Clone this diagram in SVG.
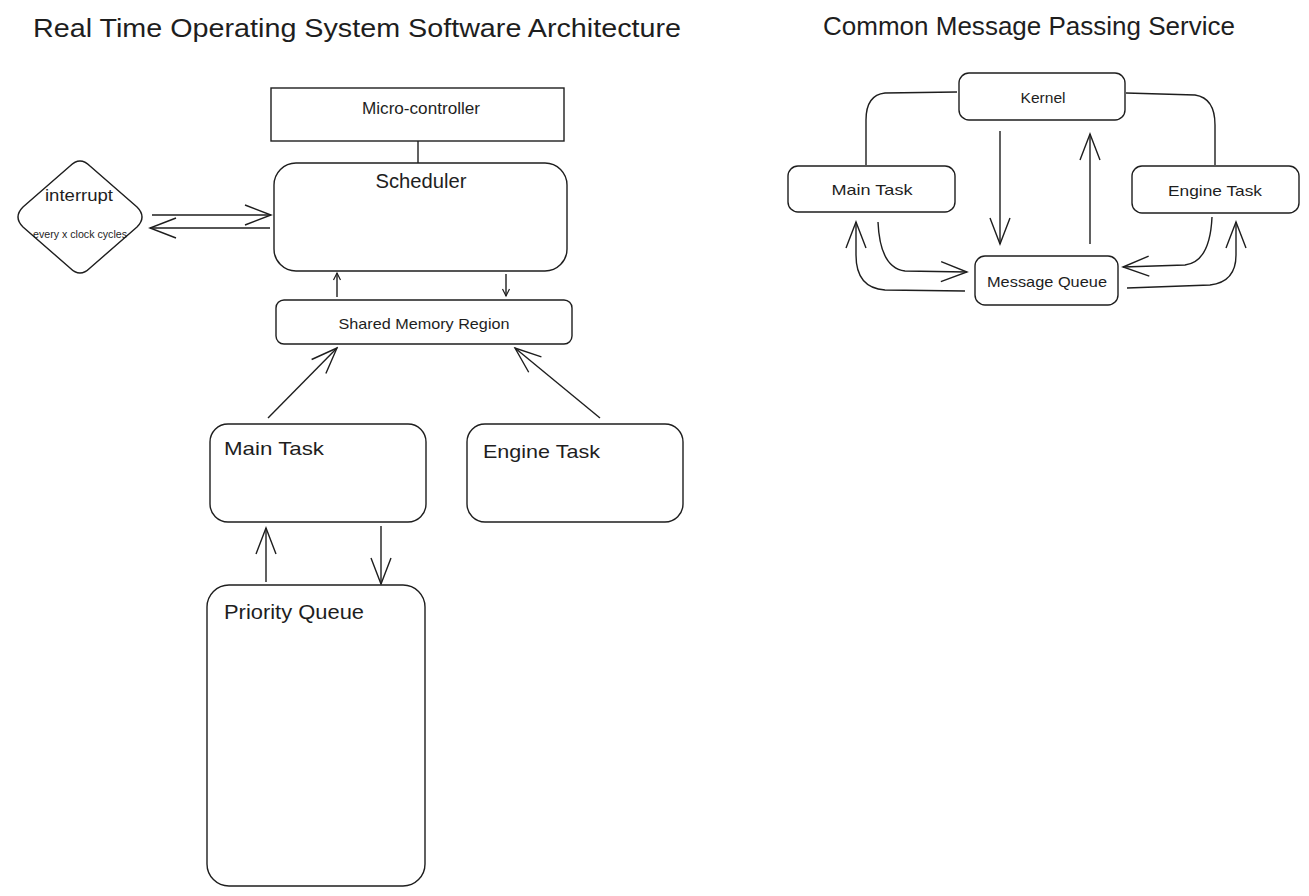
<svg xmlns="http://www.w3.org/2000/svg" width="1309" height="896" viewBox="0 0 1309 896">
<style>
.box{fill:#fff;stroke:#1e1e1e;stroke-width:1.4}
.ln{fill:none;stroke:#1e1e1e;stroke-width:1.4}
text{font-family:"Liberation Sans","Noto Sans",sans-serif;fill:#1e1e1e}
.c{text-anchor:middle;dominant-baseline:central}
.l{dominant-baseline:central}
</style>
<defs>
<marker id="ah" viewBox="-30 -12 32 24" refX="0" refY="0" markerWidth="32" markerHeight="24" markerUnits="userSpaceOnUse" orient="auto">
<path d="M-26,-10 L0,0 L-26,10" fill="none" stroke="#1e1e1e" stroke-width="1.4"/>
</marker>
<marker id="as" viewBox="-10 -5 12 10" refX="0" refY="0" markerWidth="12" markerHeight="10" markerUnits="userSpaceOnUse" orient="auto">
<path d="M-7,-3.5 L0,0 L-7,3.5" fill="none" stroke="#1e1e1e" stroke-width="1.2"/>
</marker>
</defs>
<rect width="1309" height="896" fill="#fff"/>

<text x="357" y="28" class="c" font-size="26" textLength="648" lengthAdjust="spacingAndGlyphs">Real Time Operating System Software Architecture</text>
<text x="1029" y="26" class="c" font-size="26" textLength="412" lengthAdjust="spacingAndGlyphs">Common Message Passing Service</text>

<g id="connectors">
<line class="ln" x1="418" y1="141" x2="418" y2="163"/>
<line class="ln" x1="152" y1="215" x2="271" y2="215" marker-end="url(#ah)"/>
<line class="ln" x1="270" y1="228" x2="150" y2="228" marker-end="url(#ah)"/>
<line class="ln" x1="337" y1="297" x2="337" y2="273" marker-end="url(#as)"/>
<line class="ln" x1="506" y1="274" x2="506" y2="296" marker-end="url(#as)"/>
<line class="ln" x1="268" y1="418" x2="337" y2="348" marker-end="url(#ah)"/>
<line class="ln" x1="600" y1="418" x2="515" y2="348" marker-end="url(#ah)"/>
<line class="ln" x1="266" y1="582" x2="266" y2="528" marker-end="url(#ah)"/>
<line class="ln" x1="381" y1="526" x2="381" y2="584" marker-end="url(#ah)"/>

<path class="ln" d="M957,92 L885,93 Q866,95 866,120 L866,165"/>
<path class="ln" d="M1126,93 L1195,95 Q1215,98 1215,125 L1215,165"/>
<line class="ln" x1="1000" y1="131" x2="1000" y2="244" marker-end="url(#ah)"/>
<line class="ln" x1="1090" y1="244" x2="1090" y2="134" marker-end="url(#ah)"/>
<path class="ln" d="M878,222 Q880,268 905,271 L967,272" marker-end="url(#ah)"/>
<path class="ln" d="M965,291 L885,290 Q856,288 856,255 L856,222" marker-end="url(#ah)"/>
<path class="ln" d="M1212,217 Q1210,262 1185,265 L1123,267" marker-end="url(#ah)"/>
<path class="ln" d="M1127,288 L1210,285 Q1236,282 1236,255 L1236,222" marker-end="url(#ah)"/>
</g>

<g id="microcontroller">
<rect class="box" x="271" y="88" width="293" height="53"/>
<text x="421" y="108" class="c" font-size="16" textLength="118" lengthAdjust="spacingAndGlyphs">Micro-controller</text>
</g>
<g id="scheduler">
<rect class="box" x="274" y="163" width="293" height="108" rx="22"/>
<text x="421" y="181" class="c" font-size="20" textLength="91" lengthAdjust="spacingAndGlyphs">Scheduler</text>
</g>
<g id="interrupt">
<path class="box" d="M70,166 Q80,156 90,166 L137,207 Q147,217 137,227 L90,268 Q80,278 70,268 L23,227 Q13,217 23,207 Z"/>
<text x="79" y="195" class="c" font-size="16" textLength="68" lengthAdjust="spacingAndGlyphs">interrupt</text>
<text x="80" y="234" class="c" font-size="10" textLength="94" lengthAdjust="spacingAndGlyphs">every x clock cycles</text>
</g>
<g id="shared-memory">
<rect class="box" x="276" y="300" width="296" height="44" rx="8"/>
<text x="424" y="323" class="c" font-size="15" textLength="171" lengthAdjust="spacingAndGlyphs">Shared Memory Region</text>
</g>
<g id="main-task">
<rect class="box" x="210" y="424" width="216" height="98" rx="18"/>
<text x="224" y="448" class="l" font-size="19" textLength="100" lengthAdjust="spacingAndGlyphs">Main Task</text>
</g>
<g id="engine-task">
<rect class="box" x="467" y="424" width="216" height="98" rx="18"/>
<text x="483" y="451" class="l" font-size="19" textLength="117" lengthAdjust="spacingAndGlyphs">Engine Task</text>
</g>
<g id="priority-queue">
<rect class="box" x="207" y="585" width="218" height="301" rx="22"/>
<text x="224" y="612" class="l" font-size="20" textLength="140" lengthAdjust="spacingAndGlyphs">Priority Queue</text>
</g>

<g id="kernel">
<rect class="box" x="959" y="73" width="166" height="47" rx="10"/>
<text x="1043" y="98" class="c" font-size="14" textLength="45" lengthAdjust="spacingAndGlyphs">Kernel</text>
</g>
<g id="main-task-2">
<rect class="box" x="788" y="166" width="167" height="46" rx="10"/>
<text x="872" y="189" class="c" font-size="15" textLength="81" lengthAdjust="spacingAndGlyphs">Main Task</text>
</g>
<g id="engine-task-2">
<rect class="box" x="1132" y="166" width="167" height="47" rx="10"/>
<text x="1215" y="190" class="c" font-size="15" textLength="94" lengthAdjust="spacingAndGlyphs">Engine Task</text>
</g>
<g id="message-queue">
<rect class="box" x="975" y="256" width="143" height="49" rx="10"/>
<text x="1047" y="281" class="c" font-size="15" textLength="120" lengthAdjust="spacingAndGlyphs">Message Queue</text>
</g>
</svg>
